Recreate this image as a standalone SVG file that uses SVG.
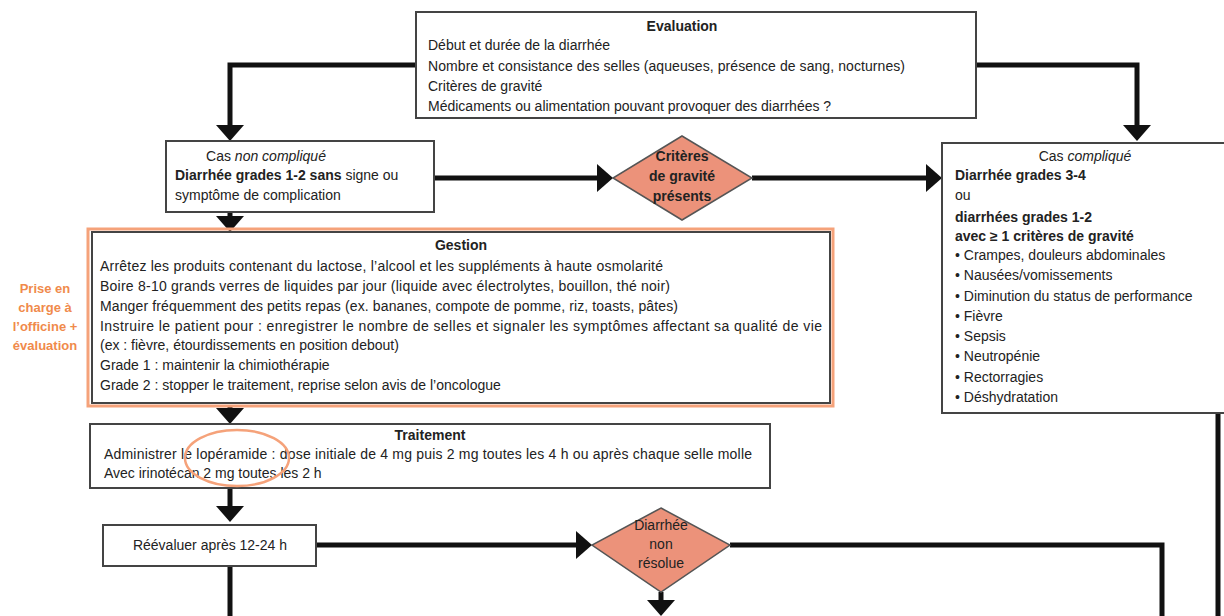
<svg xmlns="http://www.w3.org/2000/svg" width="1224" height="616" viewBox="0 0 1224 616">
<style>
text{font-family:"Liberation Sans",Arial,sans-serif;font-size:14px;fill:#222}
.t{font-weight:bold;text-anchor:middle}
.b{font-weight:bold}
.i{font-style:italic}
.c{text-anchor:middle}
.box{fill:#fff;stroke:#444;stroke-width:2}
.dia{fill:#EC927A;stroke:#555;stroke-width:1.5}
.con{fill:none;stroke:#111;stroke-width:5}
.or{fill:#F08A4B;font-weight:bold;text-anchor:middle;font-size:13px}
</style>
<defs>
<marker id="ah" viewBox="0 0 16 28" refX="0" refY="14" markerWidth="16" markerHeight="28" markerUnits="userSpaceOnUse" orient="auto">
<path d="M0,0 L16,14 L0,28 Z" fill="#111"/>
</marker>
</defs>
<rect width="1224" height="616" fill="#fff"/>

<g id="connectors">
<path class="con" d="M416,65 H230 V125" marker-end="url(#ah)"/>
<path class="con" d="M976,65 H1137 V125" marker-end="url(#ah)"/>
<path class="con" d="M434,178 H597" marker-end="url(#ah)"/>
<path class="con" d="M752,178 H926" marker-end="url(#ah)"/>
<path class="con" d="M230,212 V216" marker-end="url(#ah)"/>
<path class="con" d="M230,406 V408" marker-end="url(#ah)"/>
<path class="con" d="M230,488 V506" marker-end="url(#ah)"/>
<path class="con" d="M316,545 H576" marker-end="url(#ah)"/>
<path class="con" d="M730,545 H1162 V616"/>
<path class="con" d="M661,592 V600" marker-end="url(#ah)"/>
<path class="con" d="M230,566 V616"/>
<path class="con" d="M1218,413 V616"/>
</g>

<g id="evaluation">
<rect class="box" x="416" y="12" width="560" height="106"/>
<text class="t" x="682" y="31">Evaluation</text>
<text x="428" y="50">Début et durée de la diarrhée</text>
<text x="428" y="71" textLength="477">Nombre et consistance des selles (aqueuses, présence de sang, nocturnes)</text>
<text x="428" y="91">Critères de gravité</text>
<text x="428" y="111">Médicaments ou alimentation pouvant provoquer des diarrhées ?</text>
</g>

<g id="non-complique">
<rect class="box" x="166" y="141" width="268" height="71"/>
<text class="c" x="266" y="161">Cas <tspan class="i">non compliqué</tspan></text>
<text x="175" y="180"><tspan class="b">Diarrhée grades 1-2 sans</tspan> signe ou</text>
<text x="175" y="200">symptôme de complication</text>
</g>

<g id="criteres-gravite">
<polygon class="dia" points="682,136 752,178 682,220 613,178"/>
<text class="t" x="682" y="161">Critères</text>
<text class="t" x="682" y="181">de gravité</text>
<text class="t" x="682" y="201">présents</text>
</g>

<g id="complique">
<rect class="box" x="942" y="143" width="300" height="270"/>
<text class="c" x="1085" y="161">Cas <tspan class="i">compliqué</tspan></text>
<text class="b" x="955" y="180">Diarrhée grades 3-4</text>
<text x="955" y="200">ou</text>
<text class="b" x="955" y="222">diarrhées grades 1-2</text>
<text class="b" x="955" y="241">avec ≥ 1 critères de gravité</text>
<text x="955" y="260">• Crampes, douleurs abdominales</text>
<text x="955" y="280">• Nausées/vomissements</text>
<text x="955" y="301">• Diminution du status de performance</text>
<text x="955" y="321">• Fièvre</text>
<text x="955" y="341">• Sepsis</text>
<text x="955" y="361">• Neutropénie</text>
<text x="955" y="382">• Rectorragies</text>
<text x="955" y="402">• Déshydratation</text>
</g>

<g id="gestion">
<rect x="88" y="229" width="745" height="177" fill="none" stroke="#F5A27A" stroke-width="3"/>
<rect class="box" x="92" y="232" width="738" height="171"/>
<text class="t" x="461" y="250">Gestion</text>
<text x="100" y="271" textLength="563">Arrêtez les produits contenant du lactose, l’alcool et les suppléments à haute osmolarité</text>
<text x="100" y="291" textLength="570">Boire 8-10 grands verres de liquides par jour (liquide avec électrolytes, bouillon, thé noir)</text>
<text x="100" y="311" textLength="578">Manger fréquemment des petits repas (ex. bananes, compote de pomme, riz, toasts, pâtes)</text>
<text x="100" y="331" textLength="722">Instruire le patient pour : enregistrer le nombre de selles et signaler les symptômes affectant sa qualité de vie</text>
<text x="100" y="350">(ex : fièvre, étourdissements en position debout)</text>
<text x="100" y="370">Grade 1 : maintenir la chimiothérapie</text>
<text x="100" y="390">Grade 2 : stopper le traitement, reprise selon avis de l’oncologue</text>
</g>

<g id="prise-en-charge">
<text class="or" x="45" y="293">Prise en</text>
<text class="or" x="45" y="312">charge à</text>
<text class="or" x="45" y="331">l’officine +</text>
<text class="or" x="45" y="350">évaluation</text>
</g>

<g id="traitement">
<rect class="box" x="90" y="424" width="680" height="64"/>
<text class="t" x="430" y="440">Traitement</text>
<text x="104" y="459" textLength="648">Administrer le lopéramide : dose initiale de 4 mg puis 2 mg toutes les 4 h ou après chaque selle molle</text>
<text x="104" y="478">Avec irinotécan 2 mg toutes les 2 h</text>
<ellipse cx="237" cy="458" rx="52" ry="28" fill="none" stroke="#F5A27A" stroke-width="2.5"/>
</g>

<g id="reevaluer">
<rect class="box" x="103" y="525" width="213" height="41"/>
<text class="c" x="210" y="550">Réévaluer après 12-24 h</text>
</g>

<g id="diarrhee-non-resolue">
<polygon class="dia" points="661,508 730,545 661,592 592,545"/>
<text class="c" x="661" y="530">Diarrhée</text>
<text class="c" x="661" y="549">non</text>
<text class="c" x="661" y="568">résolue</text>
</g>
</svg>
